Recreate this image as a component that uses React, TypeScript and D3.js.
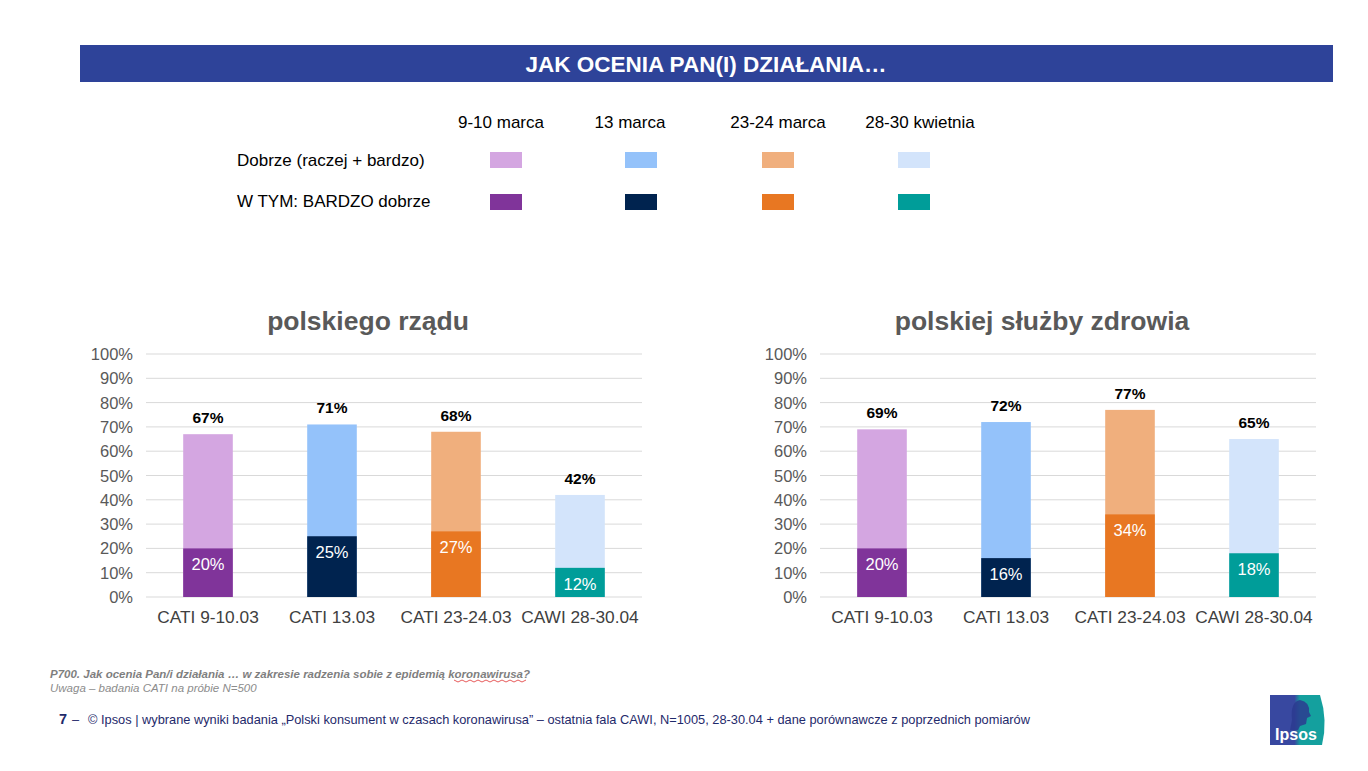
import React from "react";
import * as d3 from "d3";

const categories = ["CATI 9-10.03", "CATI 13.03", "CATI 23-24.03", "CAWI 28-30.04"];
const legendWaves = ["9-10 marca", "13 marca", "23-24 marca", "28-30 kwietnia"];
const lightColors = ["#D4A6E1", "#94C2FA", "#F0AF7D", "#D3E4FB"];
const darkColors = ["#80349A", "#00234F", "#E87722", "#009D99"];
const yTicks = [0, 10, 20, 30, 40, 50, 60, 70, 80, 90, 100];

const govTotal = [67, 71, 68, 42];
const govVery = [20, 25, 27, 12];
const healthTotal = [69, 72, 77, 65];
const healthVery = [20, 16, 34, 18];

const FONT = "Arial, 'Liberation Sans', sans-serif";

function Panel({ x0, title, totals, very }: { x0: number; title: string; totals: number[]; very: number[] }) {
  const width = 496;
  const x = d3.scaleBand<string>().domain(categories).range([x0, x0 + width]).paddingInner(0.6).paddingOuter(0.3);
  const y = d3.scaleLinear().domain([0, 100]).range([597, 354]);
  const bw = x.bandwidth();
  return (
    <g>
      <text x={x0 + width / 2 - 26} y={330} textAnchor="middle" fontSize={26.5} fontWeight="bold" fill="#595959" fontFamily={FONT}>
        {title}
      </text>
      {yTicks.map((t) => (
        <g key={t}>
          <line x1={x0} x2={x0 + width} y1={y(t)} y2={y(t)} stroke="#D9D9D9" strokeWidth={1} />
          <text x={x0 - 13} y={y(t) + 6} textAnchor="end" fontSize={16.5} fill="#595959" fontFamily={FONT}>
            {t}%
          </text>
        </g>
      ))}
      {categories.map((c, i) => {
        const bx = x(c)!;
        const cx = bx + bw / 2;
        return (
          <g key={c}>
            <rect x={bx} y={y(totals[i])} width={bw} height={y(0) - y(totals[i])} fill={lightColors[i]} />
            <rect x={bx} y={y(very[i])} width={bw} height={y(0) - y(very[i])} fill={darkColors[i]} />
            <text x={cx} y={y(totals[i]) - 11} textAnchor="middle" fontSize={15.5} fontWeight="bold" fill="#000" fontFamily={FONT}>
              {totals[i]}%
            </text>
            <text x={cx} y={y(very[i]) + 22} textAnchor="middle" fontSize={16.5} fill="#fff" fontFamily={FONT}>
              {very[i]}%
            </text>
            <text x={cx} y={623} textAnchor="middle" fontSize={17.3} fill="#404040" fontFamily={FONT}>
              {c}
            </text>
          </g>
        );
      })}
    </g>
  );
}

export default function App() {
  const swatchCenters = [506, 641, 778, 914];
  const headerCenters = [501, 630, 778, 920];
  const wavy = d3.range(0, 19).map((i) => [454 + i * 4, 680 + (i % 2 === 0 ? 0 : 2)] as [number, number]);
  return (
    <svg width={1368} height={771} style={{ position: "absolute", left: 0, top: 0, background: "#fff" }}>
      <rect x={0} y={0} width={1368} height={771} fill="#fff" />
      <rect x={80} y={45} width={1253} height={37} fill="#2E4399" />
      <text x={706} y={71.5} textAnchor="middle" fontSize={22.5} fontWeight="bold" fill="#fff" fontFamily={FONT}>
        JAK OCENIA PAN(I) DZIAŁANIA…
      </text>

      {legendWaves.map((w, i) => (
        <g key={w}>
          <text x={headerCenters[i]} y={128} textAnchor="middle" fontSize={17} fill="#000" fontFamily={FONT}>
            {w}
          </text>
          <rect x={swatchCenters[i] - 16} y={152} width={32} height={16} fill={lightColors[i]} />
          <rect x={swatchCenters[i] - 16} y={194} width={32} height={16} fill={darkColors[i]} />
        </g>
      ))}
      <text x={237} y={166} fontSize={17} fill="#000" fontFamily={FONT}>Dobrze (raczej + bardzo)</text>
      <text x={237} y={207} fontSize={17} fill="#000" fontFamily={FONT}>W TYM: BARDZO dobrze</text>

      <Panel x0={146} title="polskiego rządu" totals={govTotal} very={govVery} />
      <Panel x0={820} title="polskiej służby zdrowia" totals={healthTotal} very={healthVery} />

      <text x={50} y={678} fontSize={11.5} fontStyle="italic" fontWeight="bold" fill="#7F7F7F" fontFamily={FONT}>
        P700. Jak ocenia Pan/i działania … w zakresie radzenia sobie z epidemią koronawirusa?
      </text>
      <path d={d3.line()(wavy) || ""} fill="none" stroke="#E03030" strokeWidth={0.8} />
      <text x={50} y={692} fontSize={11.5} fontStyle="italic" fill="#8C8C8C" fontFamily={FONT}>
        Uwaga – badania  CATI na próbie N=500
      </text>

      <text x={59} y={724} fontSize={14.5} fontWeight="bold" fill="#1F2A6B" fontFamily={FONT}>7</text>
      <text x={72} y={724} fontSize={12.8} fill="#1F2A6B" fontFamily={FONT}>–</text>
      <text x={88} y={724} fontSize={12.8} fill="#1F2A6B" fontFamily={FONT}>
        © Ipsos | wybrane wyniki badania „Polski konsument w czasach koronawirusa” – ostatnia fala CAWI, N=1005, 28-30.04 + dane porównawcze z poprzednich pomiarów
      </text>

      <g>
        <defs>
          <linearGradient id="ipg" x1="0" x2="1" y1="0" y2="0">
            <stop offset="0.45" stopColor="#3848A0" />
            <stop offset="0.55" stopColor="#14A09E" />
          </linearGradient>
        </defs>
        <path d="M1270,695 L1320,695 Q1328,720 1322,745 L1270,745 Z" fill="url(#ipg)" />
        <path d="M1292,720 Q1290,702 1300,700 Q1310,702 1309,712 L1311,716 L1307,718 L1306,724 L1300,726 L1298,730 L1290,730 Z" fill="#2B3B8F" opacity={0.85} />
        <text x={1296} y={740} textAnchor="middle" fontSize={16} fontWeight="bold" fill="#fff" fontFamily={FONT}>Ipsos</text>
      </g>
    </svg>
  );
}
